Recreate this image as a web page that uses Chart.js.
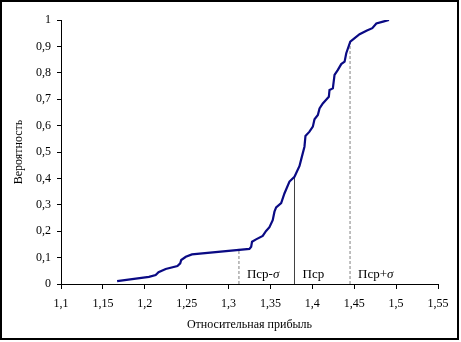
<!DOCTYPE html>
<html>
<head>
<meta charset="utf-8">
<script src="https://cdn.jsdelivr.net/npm/chart.js@4.4.1/dist/chart.umd.min.js"></script>
<style>
  html, body { margin: 0; padding: 0; background: #ffffff; }
  #wrap { width: 461px; height: 342px; position: relative; }
</style>
</head>
<body>
<div id="wrap"><canvas id="c" width="461" height="342"></canvas></div>
<script>
// Empirical cumulative distribution of relative profit
const profitValues = [
  1.167, 1.205, 1.213, 1.2164, 1.225, 1.239, 1.2423, 1.2435, 1.249, 1.2563,
  1.3249, 1.327, 1.328, 1.3328, 1.3408, 1.3448, 1.3488, 1.3527, 1.3548, 1.3568,
  1.3628, 1.3667, 1.3727, 1.3787, 1.3847, 1.3867, 1.3906, 1.3918, 1.3966, 1.4006,
  1.4026, 1.4066, 1.4086, 1.4125, 1.4197, 1.4205, 1.4245, 1.4265, 1.4305, 1.4345,
  1.4385, 1.4405, 1.4453, 1.4505, 1.4564, 1.4652, 1.4716, 1.4764, 1.4844, 1.4915
];
const probabilityValues = [
  0.011, 0.027, 0.034, 0.045, 0.057, 0.068, 0.078, 0.091, 0.103, 0.112,
  0.133, 0.141, 0.160, 0.169, 0.182, 0.201, 0.215, 0.242, 0.274, 0.290,
  0.306, 0.343, 0.388, 0.406, 0.447, 0.472, 0.520, 0.561, 0.577, 0.596,
  0.624, 0.640, 0.665, 0.684, 0.709, 0.735, 0.741, 0.792, 0.811, 0.833,
  0.842, 0.874, 0.918, 0.931, 0.946, 0.960, 0.969, 0.987, 0.994, 1.000
];

// Mean profit and the one-sigma bounds with the curve level at each
const markerLabels = ['Пср-σ', 'Пср', 'Пср+σ'];
const markerX = [1.3124, 1.3787, 1.4450];
const markerTop = [0.133, 0.403, 0.918];

// Axis ticks
const xTicks = [1.1, 1.15, 1.2, 1.25, 1.3, 1.35, 1.4, 1.45, 1.5, 1.55];
const yTicks = [0, 0.1, 0.2, 0.3, 0.4, 0.5, 0.6, 0.7, 0.8, 0.9, 1];

const FONT = '"Liberation Serif", "Times New Roman", serif';
const fmt = v => String(Math.round(v * 100) / 100).replace('.', ',');

const curve = profitValues.map((x, i) => ({ x: x, y: probabilityValues[i] }));

const markerStyles = [
  { color: '#808080', dash: [3, 2], width: 1 },
  { color: '#404040', dash: [], width: 1 },
  { color: '#808080', dash: [3, 2], width: 1 }
];
const markerSets = markerX.map((x, i) => ({
  label: markerLabels[i],
  data: [{ x: x, y: 0 }, { x: x, y: markerTop[i] }],
  showLine: true,
  borderColor: markerStyles[i].color,
  borderWidth: markerStyles[i].width,
  borderDash: markerStyles[i].dash,
  pointRadius: 0,
  fill: false,
  order: 2
}));

// Marker captions next to each vertical line, plus the outer frame
const decorations = {
  id: 'decorations',
  afterDatasetsDraw(chart) {
    const { ctx, scales } = chart;
    ctx.save();
    ctx.fillStyle = '#000';
    ctx.textBaseline = 'alphabetic';
    markerLabels.forEach((lbl, i) => {
      const px = scales.x.getPixelForValue(markerX[i]) + 8;
      const py = scales.y.getPixelForValue(0) - 6;
      const base = lbl.replace('σ', '');
      ctx.font = '13px ' + FONT;
      ctx.fillText(base, px, py);
      if (lbl.indexOf('σ') >= 0) {
        const w = ctx.measureText(base).width;
        ctx.font = 'italic 13px ' + FONT;
        ctx.fillText('σ', px + w, py);
      }
    });
    ctx.restore();
  },
  afterDraw(chart) {
    const { ctx } = chart;
    ctx.save();
    ctx.strokeStyle = '#000';
    ctx.lineWidth = 2;
    ctx.strokeRect(1, 1, 457, 338);
    ctx.restore();
  }
};

new Chart(document.getElementById('c'), {
  type: 'scatter',
  data: {
    datasets: [
      {
        label: 'Вероятность',
        data: curve,
        showLine: true,
        borderColor: '#0a0a84',
        borderWidth: 2.2,
        pointRadius: 0,
        tension: 0,
        fill: false,
        order: 1
      },
      ...markerSets
    ]
  },
  options: {
    responsive: false,
    animation: false,
    devicePixelRatio: 1,
    layout: { padding: { left: 12, right: 23, top: 20, bottom: 10 } },
    plugins: {
      legend: { display: false },
      tooltip: { enabled: false }
    },
    scales: {
      x: {
        type: 'linear',
        min: 1.1,
        max: 1.55,
        afterBuildTicks(scale) { scale.ticks = xTicks.map(v => ({ value: v })); },
        afterFit(scale) { scale.height = 48; },
        grid: {
          display: true,
          drawOnChartArea: false,
          drawTicks: true,
          tickLength: 5,
          color: '#000',
          tickColor: '#000'
        },
        border: { display: true, color: '#000', width: 1 },
        ticks: {
          color: '#000',
          font: { family: FONT, size: 12 },
          padding: 8,
          maxRotation: 0,
          autoSkip: false,
          callback: v => fmt(v)
        },
        title: {
          display: true,
          text: 'Относительная прибыль',
          color: '#000',
          font: { family: FONT, size: 12 },
          padding: { top: 4, bottom: 0 }
        }
      },
      y: {
        type: 'linear',
        min: 0,
        max: 1,
        afterBuildTicks(scale) { scale.ticks = yTicks.map(v => ({ value: v })); },
        afterFit(scale) { scale.width = 49; },
        grid: {
          display: true,
          drawOnChartArea: false,
          drawTicks: true,
          tickLength: 4,
          color: '#000',
          tickColor: '#000'
        },
        border: { display: true, color: '#000', width: 1 },
        ticks: {
          color: '#000',
          font: { family: FONT, size: 12 },
          padding: 6,
          autoSkip: false,
          callback: v => fmt(v)
        },
        title: {
          display: true,
          text: 'Вероятность',
          color: '#000',
          font: { family: FONT, size: 12 },
          padding: { top: 0, bottom: 2 }
        }
      }
    }
  },
  plugins: [decorations]
});
</script>
</body>
</html>
